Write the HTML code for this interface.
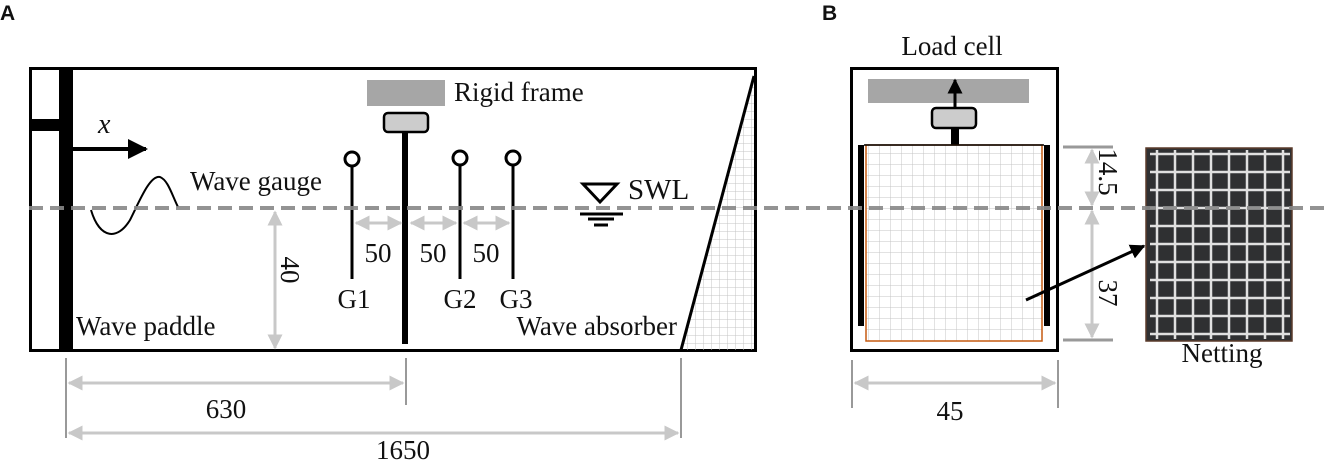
<!DOCTYPE html>
<html><head><meta charset="utf-8"><style>
html,body{margin:0;padding:0;background:#fff;}
svg{display:block;}
text{font-family:"Liberation Serif",serif;fill:#111;}
</style></head><body>
<svg width="1328" height="464" viewBox="0 0 1328 464" xmlns="http://www.w3.org/2000/svg">
<defs>
<pattern id="g1" width="8" height="8" patternUnits="userSpaceOnUse"><path d="M8 0V8M0 8H8" stroke="#c4c4c4" stroke-width="1" fill="none"/></pattern>
<pattern id="g2" width="11" height="11" patternUnits="userSpaceOnUse"><path d="M11 0V11M0 11H11" stroke="#c4c4c4" stroke-width="1" fill="none"/></pattern>
<marker id="ga" viewBox="0 0 10 10" refX="9" refY="5" markerWidth="5" markerHeight="5" orient="auto-start-reverse"><path d="M0 0L10 5L0 10z" fill="#c8c8c8"/></marker>
<marker id="ba" viewBox="0 0 10 10" refX="9" refY="5" markerWidth="5" markerHeight="5" orient="auto"><path d="M0 0L10 5L0 10z" fill="#000"/></marker>
</defs>
<text x="0" y="20" style="font-family:'Liberation Sans',sans-serif;font-weight:bold;font-size:21px">A</text>
<text x="822" y="20" style="font-family:'Liberation Sans',sans-serif;font-weight:bold;font-size:21px">B</text>

<!-- Tank A -->
<rect x="30.5" y="68.5" width="725" height="282" fill="#fff" stroke="#000" stroke-width="3"/>
<polygon points="681,350 754,76 754,350" fill="url(#g1)"/>
<line x1="681" y1="350" x2="754" y2="76" stroke="#000" stroke-width="3"/>
<rect x="59" y="67" width="14" height="284" fill="#000"/>
<rect x="29" y="119" width="30" height="12" fill="#000"/>
<line x1="73" y1="149" x2="146" y2="149" stroke="#000" stroke-width="4" marker-end="url(#ba)"/>
<text x="98" y="133" font-size="28" font-style="italic">x</text>
<path d="M91 210 C100 240,118 240,130 220 C140 200,150 175,160 177 C168 180,172 195,178 207" fill="none" stroke="#000" stroke-width="2"/>
<text x="190" y="190" font-size="27">Wave gauge</text>
<text x="76" y="335" font-size="27">Wave paddle</text>
<text x="677" y="335" font-size="27" text-anchor="end">Wave absorber</text>

<rect x="367" y="80" width="78" height="26" fill="#a6a6a6"/>
<text x="454" y="101" font-size="27">Rigid frame</text>
<rect x="384" y="113" width="44" height="19" rx="4" fill="#ccc" stroke="#000" stroke-width="2.5"/>
<rect x="402" y="133" width="6" height="211" fill="#000"/>

<g stroke="#000" stroke-width="3" fill="#fff">
<line x1="352" y1="167" x2="352" y2="279"/><circle cx="352" cy="159" r="7"/>
<line x1="460" y1="165" x2="460" y2="279"/><circle cx="460" cy="158" r="7"/>
<line x1="513" y1="165" x2="513" y2="279"/><circle cx="513" cy="158" r="7"/>
</g>
<text x="354" y="308" font-size="27" text-anchor="middle">G1</text>
<text x="460" y="308" font-size="27" text-anchor="middle">G2</text>
<text x="516" y="308" font-size="27" text-anchor="middle">G3</text>
<g stroke="#c8c8c8" stroke-width="3" marker-start="url(#ga)" marker-end="url(#ga)">
<line x1="356" y1="223" x2="401" y2="223"/>
<line x1="411" y1="223" x2="456" y2="223"/>
<line x1="464" y1="223" x2="509" y2="223"/>
</g>
<text x="378" y="262" font-size="27" text-anchor="middle">50</text>
<text x="433" y="262" font-size="27" text-anchor="middle">50</text>
<text x="486" y="262" font-size="27" text-anchor="middle">50</text>

<path d="M583 184 L617 184 L600 202 Z" fill="#fff" stroke="#000" stroke-width="3"/>
<line x1="580" y1="214" x2="623" y2="214" stroke="#000" stroke-width="3"/>
<line x1="588" y1="219" x2="614" y2="219" stroke="#000" stroke-width="3"/>
<line x1="594" y1="225" x2="608" y2="225" stroke="#000" stroke-width="3"/>
<text x="628" y="199" font-size="29">SWL</text>

<line x1="275" y1="212" x2="275" y2="348" stroke="#c8c8c8" stroke-width="3" marker-start="url(#ga)" marker-end="url(#ga)"/>
<text transform="translate(281,270) rotate(90)" font-size="27" text-anchor="middle">40</text>

<!-- bottom dims -->
<g stroke="#999" stroke-width="2">
<line x1="66" y1="358" x2="66" y2="438"/>
<line x1="406" y1="358" x2="406" y2="405"/>
<line x1="681" y1="358" x2="681" y2="438"/>
<line x1="852" y1="360" x2="852" y2="408"/>
<line x1="1058" y1="360" x2="1058" y2="408"/>
</g>
<g stroke="#c8c8c8" stroke-width="3" marker-start="url(#ga)" marker-end="url(#ga)">
<line x1="69" y1="383" x2="403" y2="383"/>
<line x1="69" y1="433" x2="678" y2="433"/>
<line x1="855" y1="383" x2="1055" y2="383"/>
<line x1="1092" y1="150" x2="1092" y2="205"/>
<line x1="1092" y1="211" x2="1092" y2="337"/>
</g>
<text x="226" y="418" font-size="27" text-anchor="middle">630</text>
<text x="403" y="459" font-size="27" text-anchor="middle">1650</text>
<text x="950" y="420" font-size="27" text-anchor="middle">45</text>

<!-- B -->
<rect x="851.5" y="68.5" width="206" height="282" fill="#fff" stroke="#000" stroke-width="3"/>
<text x="952" y="55" font-size="27" text-anchor="middle">Load cell</text>
<rect x="868" y="79" width="161" height="24" fill="#a6a6a6"/>
<line x1="955" y1="110" x2="955" y2="80" stroke="#000" stroke-width="3" marker-end="url(#ba)"/>
<rect x="932" y="108" width="44" height="20" rx="4" fill="#ccc" stroke="#000" stroke-width="2.5"/>
<rect x="951" y="128" width="8" height="17" fill="#000"/>
<rect x="866" y="145" width="176" height="196" fill="url(#g2)" stroke="#c55a11" stroke-width="1.5"/>
<line x1="864" y1="145" x2="1044" y2="145" stroke="#000" stroke-width="1.5"/>
<rect x="858" y="145" width="6" height="181" fill="#000"/>
<rect x="1044" y="145" width="6" height="181" fill="#000"/>
<line x1="1063" y1="147" x2="1113" y2="147" stroke="#999" stroke-width="3"/>
<line x1="1063" y1="340" x2="1113" y2="340" stroke="#999" stroke-width="3"/>
<text transform="translate(1099,172) rotate(90)" font-size="27" text-anchor="middle">14.5</text>
<text transform="translate(1099,293) rotate(90)" font-size="27" text-anchor="middle">37</text>

<!-- photo -->
<rect x="1146" y="148" width="146" height="193" fill="#2f3032" stroke="#5a3a2a" stroke-width="1.5"/>
<g stroke="#e0e0e0" stroke-width="2.5" fill="none">
<path d="M1150 154H1290M1150 172H1290M1150 190H1290M1150 208H1290M1150 226H1290M1150 244H1290M1150 262H1290M1150 280H1290M1150 298H1290M1150 316H1290M1150 334H1290"/>
<path d="M1157 150V339M1175 150V339M1193 150V339M1211 150V339M1229 150V339M1247 150V339M1265 150V339M1283 150V339"/>
</g>

<!-- dashed SWL line -->
<line x1="29" y1="208" x2="1328" y2="208" stroke="#888" stroke-width="4" stroke-dasharray="14 7" opacity="0.9"/>

<line x1="1026" y1="300" x2="1144" y2="246" stroke="#000" stroke-width="3" marker-end="url(#ba)"/>
<text x="1222" y="362" font-size="27" text-anchor="middle">Netting</text>
</svg>
</body></html>
